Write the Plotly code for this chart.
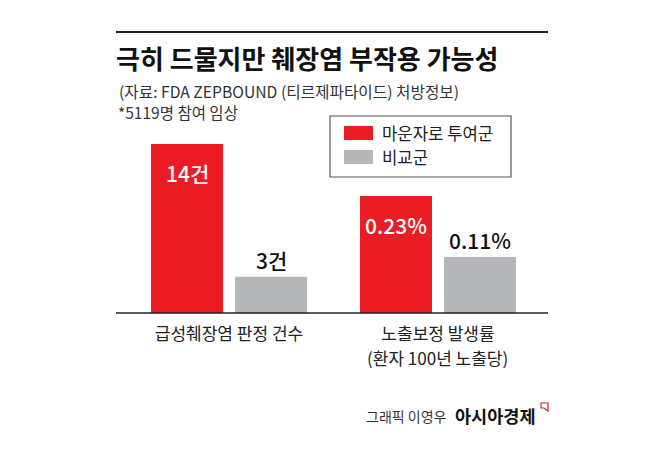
import plotly.graph_objects as go

# data
groups = ['급성췌장염 판정 건수', '노출보정 발생률']
group_notes = ['', '(환자 100년 노출당)']
series_names = ['마운자로 투여군', '비교군']
case_counts = [14, 3]          # 건
exposure_rates = [0.23, 0.11]  # %
count_labels = ['14건', '3건']
rate_labels = ['0.23%', '0.11%']

RED = '#ec1c24'
GRAY = '#b5b7ba'
FONT = 'Noto Sans CJK KR'
PAGE_PAD = 8            # default body margin of the html page
W, H = 658 - PAGE_PAD, 450 - PAGE_PAD


def px(x):
    return (x - PAGE_PAD) / W


def py(y):
    return 1 - (y - PAGE_PAD) / H


fig = go.Figure()

# group 1 (counts) on x/y, group 2 (rates) on x2/y2 - own scales per group
for i, (name, color) in enumerate(zip(series_names, [RED, GRAY])):
    fig.add_trace(go.Bar(x=[groups[0]], y=[case_counts[i]], name=name,
                         marker=dict(color=color, line=dict(width=0)),
                         xaxis='x', yaxis='y', showlegend=False, hoverinfo='skip'))
    fig.add_trace(go.Bar(x=[groups[1]], y=[exposure_rates[i]], name=name,
                         marker=dict(color=color, line=dict(width=0)),
                         xaxis='x2', yaxis='y2', showlegend=False, hoverinfo='skip'))

y_dom = [py(313), py(140)]
axis_common = dict(showgrid=False, zeroline=False, showline=False, ticks='',
                   tickfont=dict(family=FONT, size=17, color='#222'))

fig.update_layout(
    width=W, height=H,
    margin=dict(l=0, r=0, t=0, b=0),
    paper_bgcolor='white', plot_bgcolor='rgba(0,0,0,0)',
    barmode='group', bargap=0, bargroupgap=12 / 84,
    xaxis=dict(domain=[px(145), px(313)], type='category', anchor='y',
               ticklabelstandoff=9, **axis_common),
    xaxis2=dict(domain=[px(354), px(522)], type='category', anchor='y2',
                ticklabelstandoff=9, **axis_common),
    yaxis=dict(domain=y_dom, range=[0, 14 * 173 / 169], visible=False),
    yaxis2=dict(domain=y_dom, range=[0, 0.23 * 173 / 117], visible=False, anchor='x2'),
    font=dict(family=FONT, color='#222'),
)

shapes = [
    # top rule and baseline
    dict(type='line', xref='paper', yref='paper', x0=px(116), x1=px(548), y0=py(32), y1=py(32),
         line=dict(color='#222', width=2)),
    dict(type='line', xref='paper', yref='paper', x0=px(116), x1=px(548), y0=py(313), y1=py(313),
         line=dict(color='#222', width=1.5)),
    # legend box
    dict(type='rect', xref='paper', yref='paper', x0=px(330), x1=px(511), y0=py(177), y1=py(116),
         line=dict(color='#555', width=1.2), fillcolor='white'),
    # logo mark
    dict(type='path', xref='paper', yref='paper',
         path=f'M {px(541)},{py(403)} L {px(548)},{py(403)} L {px(548)},{py(411)} L {px(544)},{py(408)} L {px(541)},{py(408)} Z',
         line=dict(color='#c8242c', width=1.2), fillcolor='white'),
]
legend_rows = [133, 157]
for row_y, color in zip(legend_rows, [RED, GRAY]):
    shapes.append(dict(type='rect', xref='paper', yref='paper', x0=px(344), x1=px(373),
                       y0=py(row_y + 7), y1=py(row_y - 7), line=dict(width=0), fillcolor=color))
fig.update_layout(shapes=shapes)

ann = []
# title block
ann.append(dict(text='<b>극히 드물지만 췌장염 부작용 가능성</b>', x=px(114), y=py(57), xanchor='left',
                yanchor='middle', font=dict(size=26, color='#111')))
ann.append(dict(text='(자료: FDA ZEPBOUND (티르제파타이드) 처방정보)', x=px(117), y=py(91), xanchor='left',
                yanchor='middle', font=dict(size=15.7, color='#333')))
ann.append(dict(text='*5119명 참여 임상', x=px(116), y=py(112), xanchor='left',
                yanchor='middle', font=dict(size=15.5, color='#333')))
# legend text
for row_y, name in zip(legend_rows, series_names):
    ann.append(dict(text=name, x=px(380), y=py(row_y), xanchor='left', yanchor='middle',
                    font=dict(size=16.7, color='#222')))

# second line under the group labels
for g, note, xa in zip(groups, group_notes, ['x', 'x2']):
    if note:
        ann.append(dict(text=note, x=g, xref=xa, y=py(357), yanchor='middle', xanchor='center',
                        font=dict(size=17, color='#222')))

# value labels: red inside near top, gray above the bar
offsets = [-42, 42]
for axes, vals, labels in [(('x', 'y'), case_counts, count_labels),
                           (('x2', 'y2'), exposure_rates, rate_labels)]:
    g = groups[0] if axes[0] == 'x' else groups[1]
    for i, (v, lab) in enumerate(zip(vals, labels)):
        inside = i == 0
        ann.append(dict(text=lab, x=g, y=v, xref=axes[0], yref=axes[1], xshift=offsets[i],
                        yshift=-29 if inside else 17, xanchor='center', yanchor='middle',
                        font=dict(size=21, weight=500, color='white' if inside else '#111')))

# footer
ann.append(dict(text='그래픽 이영우', x=px(449), y=py(416), xanchor='right', yanchor='middle',
                font=dict(size=14, color='#333')))
ann.append(dict(text='<b>아시아경제</b>', x=px(453), y=py(415), xanchor='left', yanchor='middle',
                font=dict(size=17.5, color='#111')))

for a in ann:
    a.setdefault('xref', 'paper')
    a.setdefault('yref', 'paper')
    a['showarrow'] = False
    a['font'].setdefault('family', FONT)
fig.update_layout(annotations=ann)

fig.write_html('out.html')
